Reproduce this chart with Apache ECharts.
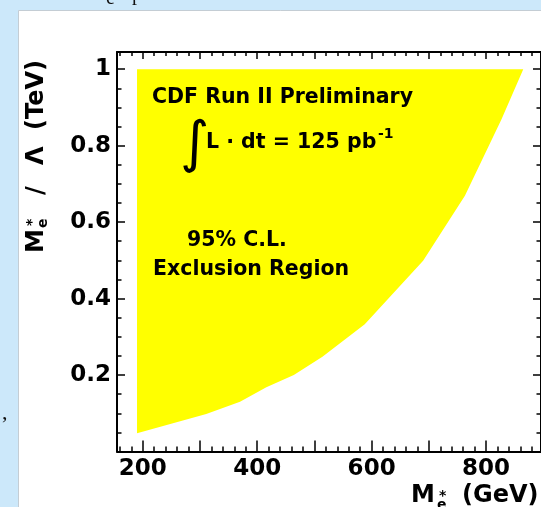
<!DOCTYPE html>
<html>
<head>
<meta charset="utf-8">
<script src="https://cdn.jsdelivr.net/npm/echarts@6/dist/echarts.min.js"></script>
<style>
  html, body { margin: 0; padding: 0; background: #cce8fa; }
  #chart { width: 541px; height: 507px; }
</style>
</head>
<body>
<div id="chart"></div>
<script>
// Excited-electron exclusion contour: M_e* (GeV) vs M_e*/Lambda (TeV)
const massGeV  = [190, 190,   311,   370,   416,   464,   514,   588,   690,   763,   827,   865];
const ratioTeV = [1.0, 0.048, 0.098, 0.130, 0.168, 0.200, 0.248, 0.333, 0.499, 0.669, 0.869, 1.0];

// Axis ranges and tick positions
const xRange = [155, 896];
const yRange = [0, 1.045];
const xLabelTicks = [200, 400, 600, 800];
const xMajorTicks = [200, 300, 400, 500, 600, 700, 800];
const yLabelTicks = [0.2, 0.4, 0.6, 0.8, 1.0];
const xMinorTicks = [];
for (let v = 160; v <= 880; v += 20) if (v % 100 !== 0) xMinorTicks.push(v);
const yMinorTicks = [];
for (let k = 1; k <= 20; k++) if (k % 4 !== 0) yMinorTicks.push(+(k * 0.05).toFixed(2));

const FONT = 'DejaVu Sans';
const bold = (size, extra) => Object.assign({ fontFamily: FONT, fontWeight: 'bold', fontSize: size, fill: '#000' }, extra || {});

const chart = echarts.init(document.getElementById('chart'), null, { renderer: 'canvas' });

function xAxisDef(position, ticks, len, withLine, withLabels) {
  return {
    type: 'value', position: position, min: xRange[0], max: xRange[1],
    axisLine: { show: withLine, onZero: false, lineStyle: { color: '#000', width: 2 } },
    axisTick: { show: true, inside: true, length: len, customValues: ticks, lineStyle: { color: '#000', width: 1.5 } },
    axisLabel: withLabels ? {
      show: true, customValues: xLabelTicks, margin: 6,
      fontFamily: FONT, fontWeight: 'bold', fontSize: 23, color: '#000'
    } : { show: false },
    splitLine: { show: false }
  };
}
function yAxisDef(position, ticks, len, withLine, withLabels) {
  return {
    type: 'value', position: position, min: yRange[0], max: yRange[1],
    axisLine: { show: withLine, onZero: false, lineStyle: { color: '#000', width: 2 } },
    axisTick: { show: true, inside: true, length: len, customValues: ticks, lineStyle: { color: '#000', width: 1.5 } },
    axisLabel: withLabels ? {
      show: true, customValues: yLabelTicks, margin: 6,
      formatter: v => (Math.abs(v - 1) < 1e-9 ? '1' : v.toFixed(1)),
      fontFamily: FONT, fontWeight: 'bold', fontSize: 23, color: '#000'
    } : { show: false },
    splitLine: { show: false }
  };
}

chart.setOption({
  backgroundColor: '#cce8fa',
  animation: false,
  grid: { left: 117, top: 52, width: 426, height: 399.5, containLabel: false },
  xAxis: [
    xAxisDef('bottom', xMajorTicks, 11, true, true),
    xAxisDef('bottom', xMinorTicks, 5, false, false),
    xAxisDef('top', xMajorTicks, 7, true, false),
    xAxisDef('top', xMinorTicks, 4, false, false)
  ],
  yAxis: [
    yAxisDef('left', yLabelTicks, 8, true, true),
    yAxisDef('left', yMinorTicks, 4.5, false, false),
    yAxisDef('right', yLabelTicks, 8, true, false),
    yAxisDef('right', yMinorTicks, 4.5, false, false)
  ],
  series: [{
    type: 'custom',
    name: '95% C.L. Exclusion Region',
    xAxisIndex: 0, yAxisIndex: 0,
    z: 1,
    data: massGeV.map((m, i) => [m, ratioTeV[i]]),
    renderItem: function (params, api) {
      if (params.dataIndex !== 0) return null;
      const pts = massGeV.map((m, i) => api.coord([m, ratioTeV[i]]));
      return { type: 'polygon', shape: { points: pts }, style: { fill: '#ffff00' } };
    }
  }],
  graphic: [
    // white slide panel
    { type: 'rect', z: -100, silent: true,
      shape: { x: 18.5, y: 10.5, width: 600, height: 600 },
      style: { fill: '#ffffff', stroke: '#c4cdd4', lineWidth: 1 } },
    // fragments of surrounding slide text
    { type: 'text', z: -50, x: 106, y: 9, style: { text: 'e', fontFamily: 'Liberation Serif', fontSize: 20, fill: '#111', verticalAlign: 'bottom' } },
    { type: 'text', z: -50, x: 132, y: 5, style: { text: 'p', fontFamily: 'Liberation Serif', fontSize: 20, fill: '#111', verticalAlign: 'bottom' } },
    { type: 'text', z: -50, x: 2, y: 424, style: { text: ',', fontFamily: 'Liberation Serif', fontSize: 22, fill: '#111', verticalAlign: 'bottom' } },

    // annotations inside the frame
    { type: 'text', z: 50, x: 152, y: 108, style: bold(20.5, { text: 'CDF Run II Preliminary', verticalAlign: 'bottom' }) },
    { type: 'text', z: 50, x: 180, y: 146, style: { text: '\u222B', fontFamily: FONT, fontSize: 56, fill: '#000', verticalAlign: 'middle' } },
    { type: 'text', z: 50, x: 206, y: 153, style: bold(20.5, { text: 'L \u00B7 dt = 125 pb', verticalAlign: 'bottom' }) },
    { type: 'text', z: 50, x: 378, y: 141, style: bold(14, { text: '-1', verticalAlign: 'bottom' }) },
    { type: 'text', z: 50, x: 187, y: 251, style: bold(20.5, { text: '95% C.L.', verticalAlign: 'bottom' }) },
    { type: 'text', z: 50, x: 153, y: 280, style: bold(20.5, { text: 'Exclusion Region', verticalAlign: 'bottom' }) },

    // y-axis title, reading bottom to top
    { type: 'group', z: 50, x: 37, y: 253, rotation: Math.PI / 2, children: [
      { type: 'text', x: 0, y: 0, style: bold(24, { text: 'M', verticalAlign: 'middle' }) },
      { type: 'text', x: 25, y: 6, style: bold(14, { text: 'e', verticalAlign: 'middle' }) },
      { type: 'text', x: 27, y: -5, style: bold(14, { text: '*', verticalAlign: 'middle' }) },
      { type: 'text', x: 58, y: 0, style: bold(24, { text: '/', verticalAlign: 'middle' }) },
      { type: 'text', x: 88, y: 0, style: bold(24, { text: '\u039B', verticalAlign: 'middle' }) },
      { type: 'text', x: 123, y: 0, style: bold(24, { text: '(TeV)', verticalAlign: 'middle' }) }
    ] },

    // x-axis title
    { type: 'group', z: 50, x: 411, y: 496, children: [
      { type: 'text', x: 0, y: 0, style: bold(24, { text: 'M', verticalAlign: 'middle' }) },
      { type: 'text', x: 26, y: 9, style: bold(14, { text: 'e', verticalAlign: 'middle' }) },
      { type: 'text', x: 28, y: 0, style: bold(14, { text: '*', verticalAlign: 'middle' }) },
      { type: 'text', x: 51, y: 0, style: bold(24, { text: '(GeV)', verticalAlign: 'middle' }) }
    ] }
  ]
});
</script>
</body>
</html>
